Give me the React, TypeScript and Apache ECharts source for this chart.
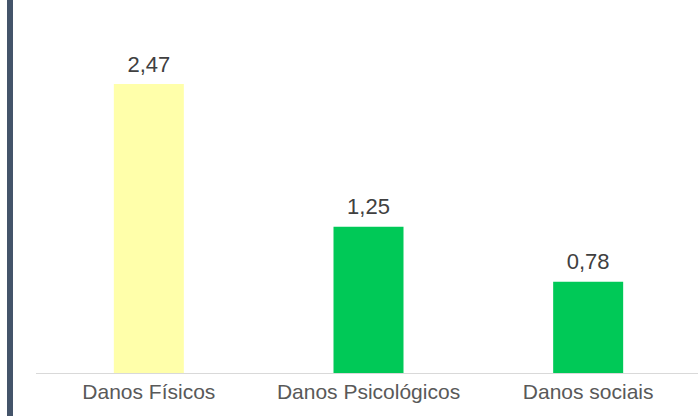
import React, { useEffect, useRef } from "react";
import * as echarts from "echarts";

const categories = ["Danos Físicos", "Danos Psicológicos", "Danos sociais"];
const values = [2.47, 1.25, 0.78];
const barColors = ["#FFFFAA", "#00C957", "#00C957"];

export default function App() {
  const ref = useRef<HTMLDivElement>(null);
  useEffect(() => {
    if (!ref.current) return;
    const chart = echarts.init(ref.current, null, { renderer: "svg" });
    chart.setOption({
      animation: false,
      backgroundColor: "#ffffff",
      grid: { left: 39, width: 660, top: 45.4, bottom: 43 },
      graphic: [
        {
          type: "rect",
          shape: { x: 7, y: 0, width: 6, height: 416 },
          style: { fill: "#44546A" },
        },
        {
          type: "line",
          shape: { x1: 36, y1: 373.5, x2: 40, y2: 373.5 },
          style: { stroke: "#D9D9D9", lineWidth: 1 },
        },
      ],
      xAxis: {
        type: "category",
        data: categories,
        axisLine: { show: true, lineStyle: { color: "#D9D9D9", width: 1 } },
        axisTick: { show: false },
        axisLabel: {
          color: "#595959",
          fontSize: 21,
          fontFamily: "Liberation Sans, Arial, sans-serif",
          margin: 8,
          interval: 0,
          hideOverlap: false,
        },
      },
      yAxis: {
        type: "value",
        min: 0,
        max: 2.8,
        show: false,
        splitLine: { show: false },
      },
      series: [
        {
          type: "bar",
          barWidth: 70,
          data: values.map((v, i) => ({ value: v, itemStyle: { color: barColors[i] } })),
          label: {
            show: true,
            position: "top",
            distance: 9,
            color: "#404040",
            fontSize: 22,
            fontFamily: "Liberation Sans, Arial, sans-serif",
            formatter: (p: any) => p.value.toFixed(2).replace(".", ","),
          },
        },
      ],
    });
    return () => chart.dispose();
  }, []);
  return (
    <div
      ref={ref}
      style={{ position: "fixed", left: 0, top: 0, width: 698, height: 416 }}
    />
  );
}
